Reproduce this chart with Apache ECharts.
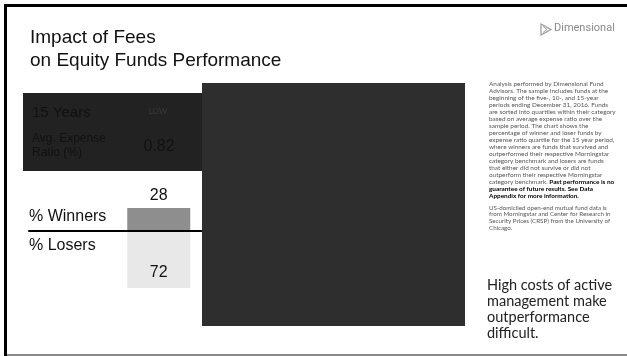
<!DOCTYPE html>
<html><head><meta charset="utf-8">
<script src="https://cdn.jsdelivr.net/npm/echarts@6/dist/echarts.min.js"></script>
<style>html,body{margin:0;padding:0;background:#fff}#c{width:627px;height:356px}</style>
</head><body><div id="c"></div>
<script>
// ---- data ----
const categories = ['', 'LOW'];
const winners = [null, 28];
const losers = [null, 72];
const expenseRatio = ['', '0.82'];
const periodLabel = '15 Years';
const titleLines = ['Impact of Fees', 'on Equity Funds Performance'];
const rowLabels = ['% Winners', '% Losers'];
const noteLines = [
  'Analysis performed by Dimensional Fund',
  'Advisors. The sample includes funds at the',
  'beginning of the five-, 10-, and 15-year',
  'periods ending December 31, 2016. Funds',
  'are sorted into quartiles within their category',
  'based on average expense ratio over the',
  'sample period. The chart shows the',
  'percentage of winner and loser funds by',
  'expense ratio quartile for the 15 year period,',
  'where winners are funds that survived and',
  'outperformed their respective Morningstar',
  'category benchmark and losers are funds',
  'that either did not survive or did not',
  'outperform their respective Morningstar',
  'category benchmark. {b|Past performance is no}',
  '{b|guarantee of future results. See Data}',
  '{b|Appendix for more information.}'
];
const sourceLines = [
  'US-domiciled open-end mutual fund data is',
  'from Morningstar and Center for Research in',
  'Security Prices (CRSP) from the University of',
  'Chicago.'
];
const takeaway = 'High costs of active\nmanagement make\noutperformance\ndifficult.';

const chart = echarts.init(document.getElementById('c'), null, {renderer: 'canvas'});
const SANS = '"Liberation Sans", Arial, sans-serif';
const AV = 'Lato, "Noto Sans", sans-serif';

const option = {
  animation: false,
  backgroundColor: '#ffffff',
  grid: {left: 29, right: 425, top: 208, bottom: 68},
  xAxis: {
    type: 'category', data: categories, z: 5,
    axisLine: {show: true, onZero: true, lineStyle: {color: '#000', width: 2}},
    axisTick: {show: false}, axisLabel: {show: false}, splitLine: {show: false}
  },
  yAxis: {
    type: 'value', min: -Math.max(...losers.filter(v => v != null)), max: Math.max(...winners.filter(v => v != null)),
    show: false, splitLine: {show: false}
  },
  series: [
    {
      name: 'Winners', type: 'bar', stack: 'wl', barWidth: 63,
      data: winners,
      itemStyle: {color: '#8e8e8e'},
      label: {show: true, position: 'top', distance: 4, color: '#111', fontSize: 16, fontFamily: SANS}
    },
    {
      name: 'Losers', type: 'bar', stack: 'wl', barWidth: 63,
      data: losers.map(v => v == null ? null : -v),
      itemStyle: {color: '#e8e8e8'},
      label: {show: true, position: 'insideBottom', distance: 7, color: '#111', fontSize: 16, fontFamily: SANS,
        formatter: p => Math.abs(p.value)}
    }
  ],
  graphic: [
    // frame
    {type: 'rect', shape: {x: 4, y: 4, width: 623, height: 3}, style: {fill: '#000'}, z: 10},
    {type: 'rect', shape: {x: 4, y: 4, width: 3, height: 352}, style: {fill: '#000'}, z: 10},
    {type: 'rect', shape: {x: 7, y: 354, width: 620, height: 2}, style: {fill: '#888'}, z: 10},
    // title
    {type: 'text', left: 30, top: 26, z: 10, style: {text: titleLines.join('\n'), fontSize: 19, lineHeight: 23, fontFamily: SANS, fill: '#111'}},
    // logo
    {type: 'polygon', shape: {points: [[541, 24], [551, 29.5], [541, 35]]}, style: {fill: 'none', stroke: '#9a9a9a', lineWidth: 1.2}, z: 10},
    {type: 'polyline', shape: {points: [[543, 26.5], [547, 29.5], [543, 32.5]]}, style: {fill: 'none', stroke: '#9a9a9a', lineWidth: 1}, z: 10},
    {type: 'text', left: 554, top: 23, z: 10, style: {text: 'Dimensional', fontSize: 11, fontFamily: 'Roboto, sans-serif', fill: '#8a8a8a'}},
    // dark header box
    {type: 'rect', shape: {x: 23, y: 93, width: 180, height: 78}, style: {fill: '#222222'}, z: 8},
    {type: 'text', left: 32, top: 105, z: 9, style: {text: periodLabel, fontSize: 15, fontFamily: SANS, fill: '#111'}},
    {type: 'text', x: 158, y: 111, z: 9, style: {text: categories[1], fontSize: 8, fontFamily: AV, fill: '#3a3a3a', align: 'center', verticalAlign: 'middle'}},
    {type: 'text', left: 32, top: 131, z: 9, style: {text: 'Avg. Expense\nRatio (%)', fontSize: 12, lineHeight: 14.5, fontFamily: SANS, fill: '#111'}},
    {type: 'text', x: 159, y: 147, z: 9, style: {text: expenseRatio[1], fontSize: 16, fontFamily: SANS, fill: '#111', align: 'center', verticalAlign: 'middle'}},
    // big overlay rect
    {type: 'rect', shape: {x: 202, y: 83, width: 263, height: 243}, style: {fill: '#2e2e2e'}, z: 9},
    // row labels
    {type: 'text', x: 29, y: 217, z: 10, style: {text: rowLabels[0], fontSize: 16, fontFamily: SANS, fill: '#111', verticalAlign: 'middle'}},
    {type: 'text', x: 29, y: 246, z: 10, style: {text: rowLabels[1], fontSize: 16, fontFamily: SANS, fill: '#111', verticalAlign: 'middle'}},
    // notes
    {type: 'text', left: 489, top: 80, z: 10, style: {text: noteLines.join('\n'), fontSize: 6.4, lineHeight: 7, fontFamily: AV, fill: '#555',
      rich: {b: {fontSize: 6.4, lineHeight: 7, fontWeight: 'bold', fill: '#000', fontFamily: AV}}}},
    {type: 'text', left: 489, top: 204.5, z: 10, style: {text: sourceLines.join('\n'), fontSize: 6.2, lineHeight: 6.6, fontFamily: AV, fill: '#555'}},
    {type: 'text', left: 487, top: 277, z: 10, style: {text: takeaway, fontSize: 14.5, lineHeight: 16, fontFamily: AV, fill: '#222'}}
  ]
};
chart.setOption(option);
</script>
</body></html>
